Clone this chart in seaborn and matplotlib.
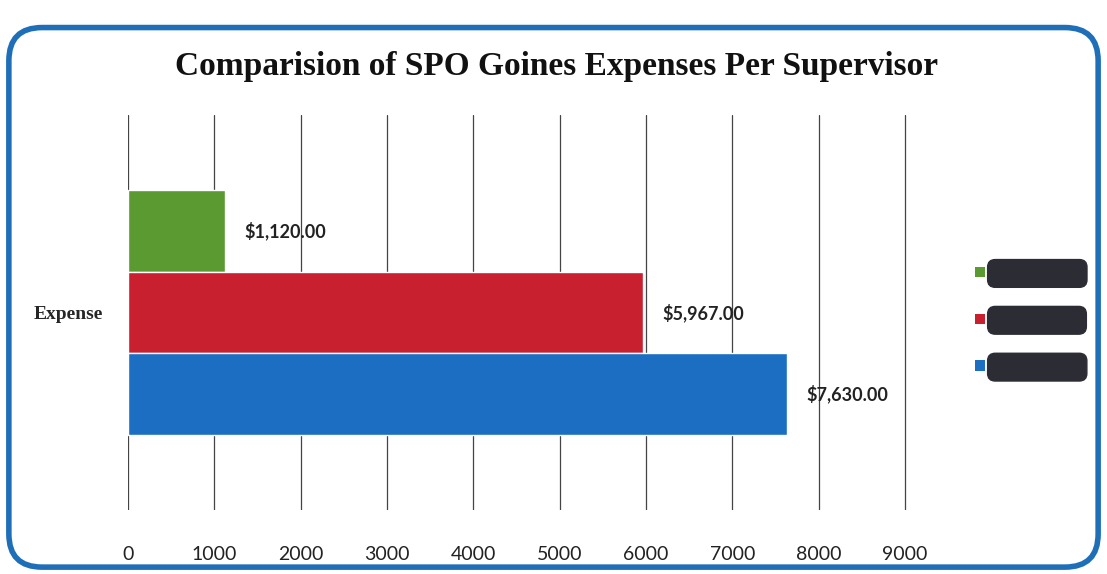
"""plot.py - SPO Goines expenses per supervisor (horizontal grouped bars)"""
import matplotlib
matplotlib.use("Agg")
import matplotlib.pyplot as plt
from matplotlib.patches import FancyBboxPatch, Patch
import seaborn as sns
import pandas as pd

# data (legend names are redacted in the source)
category = ["Expense", "Expense", "Expense"]
supervisors = ["Supervisor A", "Supervisor B", "Supervisor C"]
expenses = [1120.00, 5967.00, 7630.00]
bar_colors = ["#5b9a30", "#c9202f", "#1b6ec2"]
x_ticks = [0, 1000, 2000, 3000, 4000, 5000, 6000, 7000, 8000, 9000]

df = pd.DataFrame({"Category": category, "Supervisor": supervisors, "Expense": expenses})

sns.set_style("white")
plt.rcParams["font.family"] = ["Lato", "DejaVu Sans"]

fig = plt.figure(figsize=(11.07, 5.74), dpi=100)
ax = fig.add_axes([0.1156, 0.111, 0.7035, 0.689])

sns.barplot(data=df, y="Category", x="Expense", hue="Supervisor",
            palette=bar_colors, orient="h", width=0.62, ax=ax,
            legend=False, saturation=1)

for cont in ax.containers:
    ax.bar_label(cont, labels=[f"${v:,.2f}" for v in cont.datavalues],
                 padding=14, fontsize=13, fontweight="bold", color="#222222")

ax.set_xlim(0, 9020)
ax.set_ylim(0.5, -0.5)
ax.set_xticks(x_ticks)
ax.set_xticklabels([str(t) for t in x_ticks], fontsize=14, color="#222222")
ax.tick_params(axis="x", length=0, pad=26)
ax.tick_params(axis="y", length=0, pad=18)
for lbl in ax.get_yticklabels():
    lbl.set_fontfamily("Liberation Serif")
    lbl.set_fontweight("bold")
    lbl.set_fontsize(14)
ax.set_xlabel("")
ax.set_ylabel("")
ax.grid(axis="x", color="#444444", linewidth=0.9)
ax.set_axisbelow(True)
sns.despine(ax=ax, left=True, bottom=True)

fig.text(0.503, 0.885, "Comparision of SPO Goines Expenses Per Supervisor",
         ha="center", va="center", fontsize=24, fontweight="bold",
         family="Liberation Serif", color="#111111")

# legend with redacted names
handles = [Patch(facecolor=c, edgecolor="none") for c in bar_colors]
leg = fig.legend(handles, supervisors, loc="center left",
                 bbox_to_anchor=(0.868, 0.442), frameon=False,
                 handlelength=0.7, handleheight=0.7, handletextpad=0.6,
                 labelspacing=2.15, fontsize=11)
for txt in leg.get_texts():
    txt.set_color("#2c2c34")
    txt.set_bbox(dict(boxstyle="round,pad=0.45,rounding_size=0.5",
                      facecolor="#2c2c34", edgecolor="#2c2c34"))

# blue rounded chart frame
frame = FancyBboxPatch((0.008, 0.012), 0.984, 0.94, transform=fig.transFigure,
                       boxstyle="round,pad=0,rounding_size=0.03",
                       facecolor="none", edgecolor="#1f6fb8", linewidth=4,
                       mutation_aspect=1107 / 574)
fig.patches.append(frame)

fig.savefig("out.png", dpi=100)
plt.close(fig)
